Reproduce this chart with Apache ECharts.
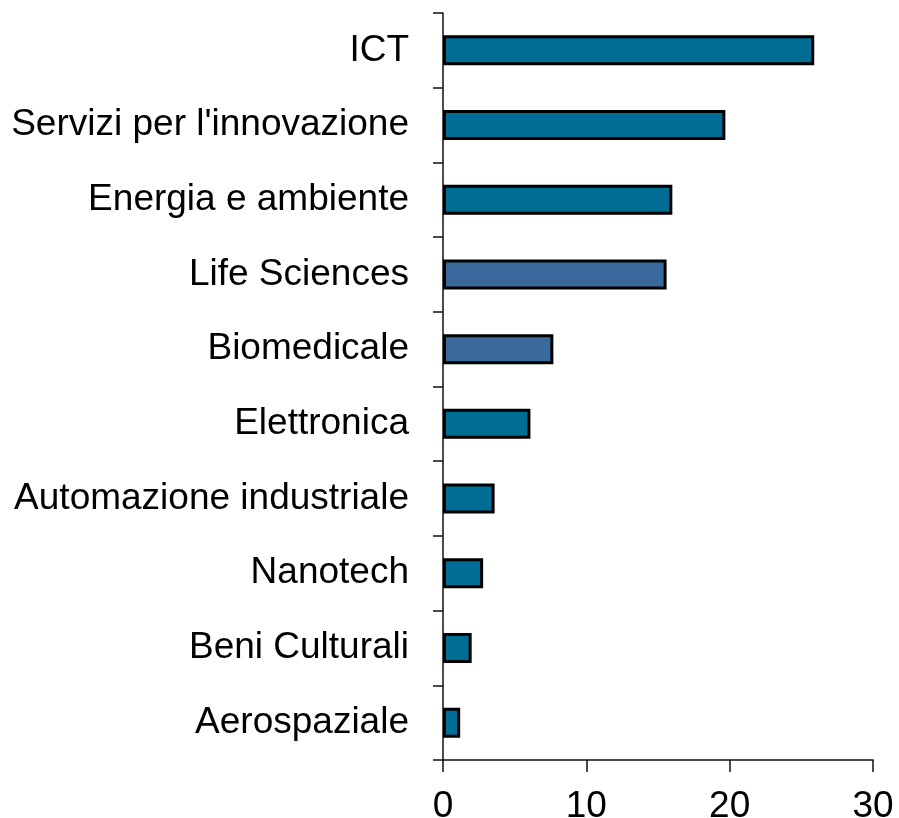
<!DOCTYPE html>
<html>
<head>
<meta charset="utf-8">
<script src="https://cdn.jsdelivr.net/npm/echarts@6/dist/echarts.min.js"></script>
<style>
  html, body { margin: 0; padding: 0; background: #fff; }
  #chart { width: 899px; height: 818px; }
</style>
</head>
<body>
<div id="chart"></div>
<script>
  // settori, dall'alto verso il basso
  var categories = ['ICT', "Servizi per l'innovazione", 'Energia e ambiente', 'Life Sciences',
    'Biomedicale', 'Elettronica', 'Automazione industriale', 'Nanotech', 'Beni Culturali', 'Aerospaziale'];
  var values = [25.9, 19.7, 16.0, 15.6, 7.7, 6.1, 3.6, 2.8, 2.0, 1.2];
  var xTicks = [0, 10, 20, 30];

  // i due settori con il colore diverso
  var altCats = ['Life Sciences', 'Biomedicale'];

  var chart = echarts.init(document.getElementById('chart'));
  chart.setOption({
    animation: false,
    grid: { left: 443, right: 26, top: 13, bottom: 58, outerBoundsMode: 'none', containLabel: false },
    xAxis: {
      type: 'value',
      min: xTicks[0],
      max: xTicks[xTicks.length - 1],
      interval: 10,
      axisLine: { show: true, lineStyle: { color: '#111', width: 1.5 } },
      axisTick: { show: true, length: 12, lineStyle: { color: '#111', width: 1.5 } },
      splitLine: { show: false },
      axisLabel: { margin: 28, fontSize: 37, color: '#000', fontFamily: 'Liberation Sans, Arial, sans-serif' }
    },
    yAxis: {
      type: 'category',
      inverse: true,
      data: categories,
      axisLine: { show: true, lineStyle: { color: '#111', width: 1.5 } },
      axisTick: { show: true, length: 10, lineStyle: { color: '#111', width: 1.5 } },
      axisLabel: { margin: 34, fontSize: 37, color: '#000', fontFamily: 'Liberation Sans, Arial, sans-serif' }
    },
    series: [{
      type: 'bar',
      barWidth: 30,
      data: values.map(function (v, i) {
        return {
          value: v,
          itemStyle: { color: altCats.indexOf(categories[i]) >= 0 ? '#3a6a9c' : '#006d94' }
        };
      }),
      itemStyle: { borderColor: '#000', borderWidth: 3 }
    }]
  });
</script>
</body>
</html>
